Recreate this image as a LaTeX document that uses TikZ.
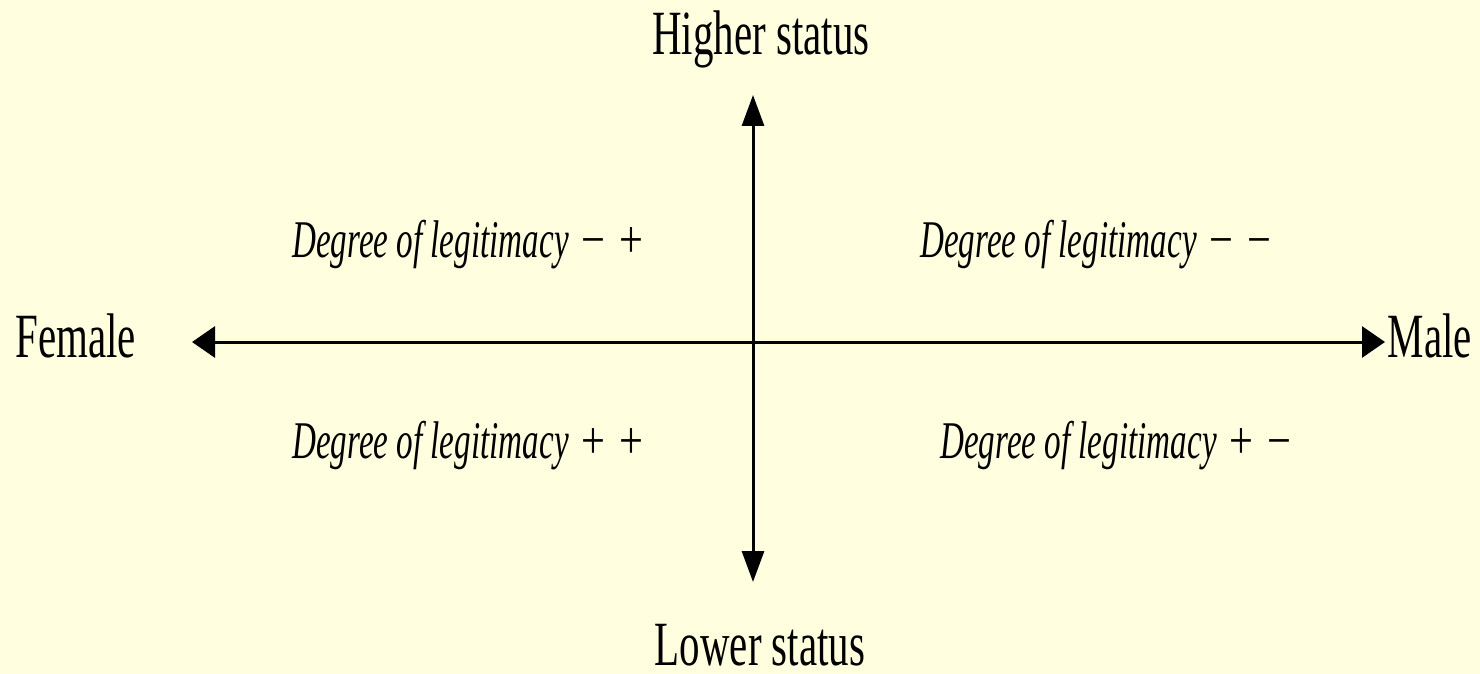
\documentclass[tikz,border=0pt]{standalone}
\usepackage{fontspec}
\setmainfont{Liberation Serif}[FakeStretch=0.65]
\newfontfamily\quadfont{Liberation Serif}[FakeStretch=0.625]
\newfontfamily\signfont{Liberation Serif}[FakeStretch=0.8]
\usetikzlibrary{arrows.meta}
\definecolor{bgcol}{HTML}{FFFFE0}
\tikzset{
  axislabel/.style={inner sep=0pt, anchor=base, font=\fontsize{63}{70}\selectfont},
  quadlabel/.style={inner sep=0pt, anchor=base west, font=\fontsize{53}{60}\selectfont\quadfont\itshape},
  vaxis/.style={line width=3pt, {Triangle[length=31pt,width=22pt]}-{Triangle[length=31pt,width=22pt]}},
  haxis/.style={line width=3pt, {Triangle[length=23pt,width=31pt]}-{Triangle[length=23pt,width=31pt]}},
}
\newcommand{\sgns}[2]{\hspace{13pt}{\signfont\upshape #1}\hspace{14pt}{\signfont\upshape #2}}
\begin{document}
\begin{tikzpicture}[x=1pt,y=-1pt]
\fill[bgcol] (0,0) rectangle (1480,674);
\useasboundingbox (0,0) rectangle (1480,674);
\coordinate (top) at (753,95);
\coordinate (bottom) at (753,582);
\coordinate (left) at (192,342);
\coordinate (right) at (1385,342);
\draw[vaxis] (bottom) -- (top);
\draw[haxis] (left) -- (right);
\node[axislabel] (higher) at (761,55) {Higher status};
\node[axislabel] (lower) at (760,665) {Lower status};
\node[axislabel] (female) at (75.5,357) {Female};
\node[axislabel] (male) at (1430,357) {Male};
\node[quadlabel] (q1) at (292,257) {Degree of legitimacy\sgns{−}{+}};
\node[quadlabel] (q2) at (920,257) {Degree of legitimacy\sgns{−}{−}};
\node[quadlabel] (q3) at (292,458) {Degree of legitimacy\sgns{+}{+}};
\node[quadlabel] (q4) at (940,458) {Degree of legitimacy\sgns{+}{−}};
\end{tikzpicture}
\end{document}
